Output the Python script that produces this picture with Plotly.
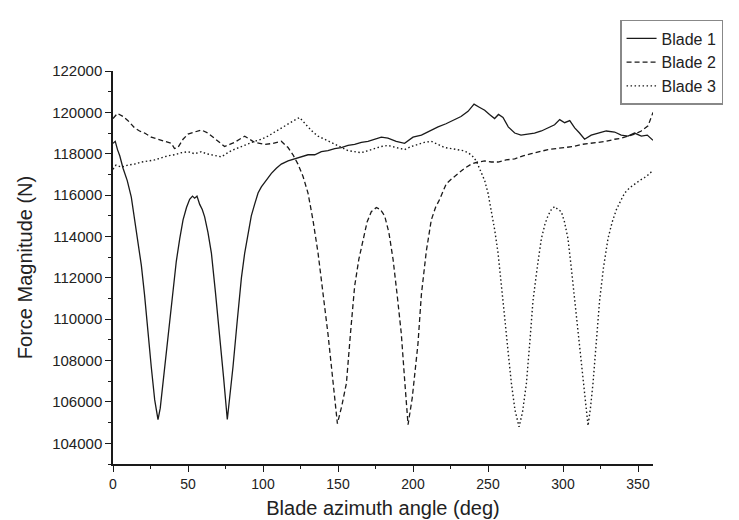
import plotly.graph_objects as go

# ---- data ----
blade1_angle = [0, 1.5, 3, 4.5, 6.7, 9.5, 12.2, 15.6, 18.9, 21, 23.3, 25.5, 27.8, 30, 31.5, 33.3,
                35.5, 37.8, 40, 42.2, 44.5, 46.7, 49, 51.1, 53, 54.4, 56, 57.8, 59.5, 61.1, 63.3,
                65.6, 68.3, 71.1, 73.7, 76.2, 78, 80, 82.8, 85.6, 87.8, 90, 92.2, 94.4, 96.7, 98.9,
                102, 105.6, 108.9, 112.2, 116.7, 121.1, 125.5, 130, 134.5, 138.9, 143.3, 147.8,
                152.2, 156.7, 161.1, 165.6, 170, 174.4, 178.9, 183.3, 188.8, 194.4, 200, 205.6,
                211, 216.7, 222, 227.8, 232, 236.7, 240.7, 244.2, 247.8, 251, 254.4, 257, 260,
                263.5, 267.8, 272, 276.7, 281, 285.6, 290, 294.4, 297.8, 301.1, 304.5, 307.8,
                311, 314.4, 318.8, 323.3, 328.8, 334.4, 338.8, 343.3, 347.7, 352.2, 356.2, 360]
blade1_force = [118500, 118600, 118200, 117900, 117300, 116700, 115900, 114300, 112600, 111200,
                109300, 107700, 106100, 105150, 105700, 106900, 108500, 110100, 111600, 112800,
                113900, 114800, 115400, 115800, 115950, 115850, 115950, 115550, 115300, 114950,
                114200, 113200, 111300, 109300, 107200, 105150, 106300, 107700, 109900, 112000,
                113200, 114200, 115000, 115550, 116100, 116400, 116700, 117050, 117300, 117500,
                117650, 117750, 117850, 117950, 117950, 118100, 118150, 118250, 118300, 118400,
                118450, 118550, 118600, 118700, 118800, 118750, 118600, 118500, 118800, 118900,
                119100, 119300, 119450, 119650, 119800, 120050, 120400, 120250, 120100, 119900,
                119700, 119900, 119750, 119300, 119000, 118900, 118950, 119000, 119100, 119250,
                119400, 119650, 119500, 119600, 119250, 119000, 118700, 118900, 119000, 119100,
                119050, 118900, 118850, 119000, 118850, 118900, 118650]

blade2_angle = [0, 3, 6.7, 10, 14.4, 17.7, 21.1, 25.5, 30, 34.4, 38.9, 41, 43.3, 46.7, 50, 54.4,
                58.9, 63.3, 66.7, 70, 74.4, 77.8, 81.1, 84.4, 87.8, 91.1, 94.4, 97.8, 101.1, 106.6,
                112.2, 116.7, 120, 123.3, 126.7, 130, 133.3, 136.7, 140, 143.3, 146.5, 149.6,
                152.5, 155.6, 158.3, 161.1, 163.9, 166.7, 169.4, 172.2, 175.6, 178.3, 181.1,
                183.9, 186.7, 189.4, 192.2, 194.5, 196.7, 199.5, 203.3, 205.6, 208.9, 212.2, 215,
                217.8, 222.2, 226, 230, 234.4, 238.9, 243.3, 247.8, 252.2, 256.7, 262, 267.8,
                273.4, 278.9, 284.5, 290, 295.5, 301.1, 306.7, 312.2, 317.8, 323.3, 328.8, 334.4,
                338.8, 343.3, 347.7, 352.2, 356.7, 360]
blade2_force = [119700, 119950, 119800, 119600, 119250, 119100, 119000, 118800, 118700, 118600,
                118500, 118250, 118300, 118700, 118950, 119050, 119150, 119000, 118800, 118600,
                118350, 118450, 118550, 118700, 118850, 118700, 118550, 118500, 118450, 118500,
                118600, 118300, 117950, 117500, 116900, 116100, 114800, 113200, 111300, 109300,
                107100, 104950, 105800, 106900, 109300, 111600, 112900, 113900, 114700, 115200,
                115400, 115300, 115000, 114200, 112900, 111200, 109300, 107000, 104900, 106200,
                108800, 111200, 113300, 114800, 115400, 115800, 116550, 116800, 117050, 117300,
                117500, 117600, 117650, 117600, 117600, 117700, 117750, 117900, 118000, 118100,
                118200, 118250, 118300, 118350, 118450, 118500, 118550, 118600, 118700, 118750,
                118850, 118950, 119100, 119350, 120000]

blade3_angle = [0, 2, 5.6, 10, 14.4, 18.9, 23.3, 27.7, 32.2, 36.6, 41.1, 45.5, 50, 54.4, 58.9,
                62.2, 65.6, 68.9, 72.2, 75.5, 78.9, 82.2, 85.6, 90, 94.4, 98.9, 103.3, 107.8,
                112.2, 115.5, 118.9, 121.7, 124.4, 127.2, 130, 133.3, 136.7, 141, 145.6, 150,
                156.7, 161, 165.6, 170, 174.4, 178.8, 183.3, 188.8, 194.4, 198.8, 203.3, 207.7,
                212.2, 216.7, 221.1, 225.5, 230, 233.3, 236.7, 239.5, 242.2, 245, 247.8, 250,
                252.2, 254.5, 256.7, 259, 261.1, 263.3, 265.6, 268, 270.7, 273, 275.6, 278, 280,
                283, 285.6, 288, 290, 292.2, 294.4, 296.7, 298.9, 301, 303.3, 305.5, 307.8, 310,
                312.2, 314.5, 316.7, 318.3, 320, 322.2, 324.4, 327, 330, 332.8, 335.6, 338.3,
                341.1, 344.4, 347.8, 351, 354.4, 357.2, 360]
blade3_force = [117250, 117450, 117350, 117450, 117500, 117600, 117650, 117700, 117800, 117900,
                117950, 118050, 118100, 118000, 118100, 118000, 117950, 117900, 117850, 118000,
                118150, 118250, 118350, 118450, 118600, 118700, 118850, 119050, 119250, 119400,
                119550, 119650, 119750, 119550, 119300, 119050, 118850, 118700, 118550, 118400,
                118150, 118100, 118050, 118150, 118250, 118350, 118400, 118300, 118200, 118350,
                118450, 118550, 118600, 118450, 118300, 118250, 118200, 118150, 118050, 117900,
                117650, 117200, 116700, 116100, 115300, 114300, 113200, 111700, 110100, 108500,
                106900, 105600, 104800, 105500, 106900, 109000, 110900, 112600, 113900, 114600,
                115000, 115300, 115450, 115300, 115200, 114700, 113900, 112500, 110900, 109300,
                107700, 106200, 104850, 105700, 106900, 108900, 110900, 112500, 113900, 114700,
                115300, 115700, 116100, 116350, 116550, 116700, 116850, 117000, 117200]

series_names = ["Blade 1", "Blade 2", "Blade 3"]
x_ticks = [0, 50, 100, 150, 200, 250, 300, 350]
y_ticks = [104000, 106000, 108000, 110000, 112000, 114000, 116000, 118000, 120000, 122000]

FONT = "Arial, Liberation Sans, sans-serif"
INK = "#1a1a1a"

fig = go.Figure()
styles = [
    dict(dash="solid", width=1.3),
    dict(dash="5px,3px", width=1.3),
    dict(dash="1.5px,2.5px", width=1.4),
]
for name, xs, ys, st in zip(series_names,
                            [blade1_angle, blade2_angle, blade3_angle],
                            [blade1_force, blade2_force, blade3_force],
                            styles):
    fig.add_trace(go.Scatter(x=xs, y=ys, mode="lines", name=name,
                             line=dict(color=INK, width=st["width"], dash=st["dash"])))

fig.update_layout(
    width=739, height=520, autosize=False,
    margin=dict(l=105, r=94, t=55, b=64),
    paper_bgcolor="white", plot_bgcolor="white",
    font=dict(family=FONT, color="#222", size=15),
    showlegend=True,
    legend=dict(x=0.939, y=1.13, xanchor="left", yanchor="top",
                bgcolor="white", bordercolor="#888", borderwidth=1.5,
                font=dict(size=16, color="#222"), tracegroupgap=0),
)
fig.update_xaxes(
    range=[0, 360], tickmode="array", tickvals=x_ticks,
    ticks="outside", ticklen=6, tickwidth=1.3, tickcolor=INK,
    showline=True, linecolor=INK, linewidth=1.5, showgrid=False, zeroline=False,
    tickfont=dict(size=14, family=FONT, color="#222"),
    minor=dict(dtick=25, tick0=0, ticks="outside", ticklen=3.5, tickwidth=1.2, tickcolor=INK, showgrid=False),
    title=dict(text="Blade azimuth angle (deg)", font=dict(size=20, family=FONT, color="#222"), standoff=10),
)
fig.update_yaxes(
    range=[103000, 122000], tickmode="array", tickvals=y_ticks, tickformat="d",
    ticks="outside", ticklen=6, tickwidth=1.3, tickcolor=INK,
    showline=True, linecolor=INK, linewidth=1.5, showgrid=False, zeroline=False,
    tickfont=dict(size=15, family=FONT, color="#222"),
    minor=dict(dtick=1000, tick0=0, ticks="outside", ticklen=3.5, tickwidth=1.2, tickcolor=INK, showgrid=False),
    title=dict(text="Force Magnitude (N)", font=dict(size=20, family=FONT, color="#222"), standoff=14),
)

fig.write_html("out.html")
